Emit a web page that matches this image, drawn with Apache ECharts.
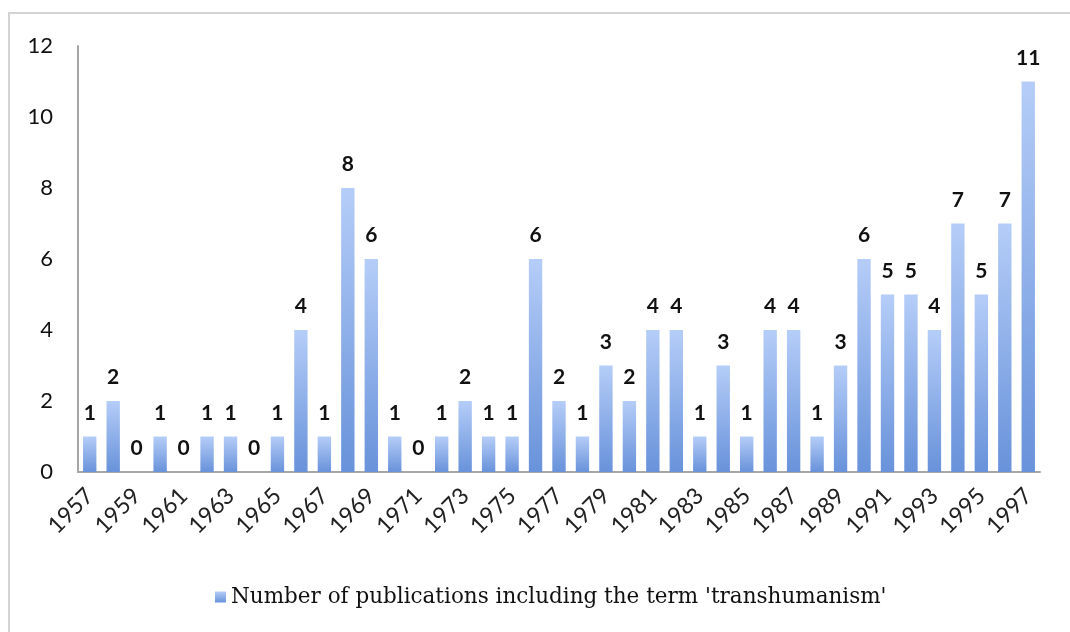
<!DOCTYPE html>
<html>
<head>
<meta charset="utf-8">
<script src="https://cdn.jsdelivr.net/npm/echarts@6/dist/echarts.min.js"></script>
<style>
  html, body { margin: 0; padding: 0; background: #fff; }
  #frame { position: absolute; left: 8px; top: 12px; width: 1070px; height: 640px;
           border-left: 2px solid #d4d4d4; border-top: 2px solid #d4d4d4; }
  #chart { position: absolute; left: 0; top: 0; width: 1070px; height: 632px; }
</style>
</head>
<body>
<div id="frame"></div>
<div id="chart"></div>
<script>
// years on the x axis
const years = [
  "1957","1958","1959","1960","1961","1962","1963","1964","1965","1966",
  "1967","1968","1969","1970","1971","1972","1973","1974","1975","1976",
  "1977","1978","1979","1980","1981","1982","1983","1984","1985","1986",
  "1987","1988","1989","1990","1991","1992","1993","1994","1995","1996","1997"
];
// publications per year
const publications = [
  1, 2, 0, 1, 0, 1, 1, 0, 1, 4,
  1, 8, 6, 1, 0, 1, 2, 1, 1, 6,
  2, 1, 3, 2, 4, 4, 1, 3, 1, 4,
  4, 1, 3, 6, 5, 5, 4, 7, 5, 7, 11
];
const seriesName = "Number of publications including the term 'transhumanism'";
const yTicks = [0, 2, 4, 6, 8, 10, 12];

const chart = echarts.init(document.getElementById("chart"), null, { renderer: "canvas" });

const barGradient = new echarts.graphic.LinearGradient(0, 0, 0, 1, [
  { offset: 0, color: "#b5cdf8" },
  { offset: 1, color: "#6892da" }
]);

chart.setOption({
  animation: false,
  grid: { left: 78, right: 30, top: 46, bottom: 160 },
  legend: {
    bottom: 19,
    left: 210,
    itemWidth: 11,
    itemHeight: 11,
    itemGap: 5,
    icon: "rect",
    textStyle: { fontFamily: "DejaVu Serif", fontSize: 21.5, color: "#111" }
  },
  xAxis: {
    type: "category",
    data: years,
    axisLine: { lineStyle: { color: "#a6a6a6", width: 2 } },
    axisTick: { show: false },
    axisLabel: {
      interval: 1,
      rotate: 45,
      margin: 20,
      fontFamily: "Lato",
      fontSize: 23,
      color: "#222"
    }
  },
  yAxis: {
    type: "value",
    min: yTicks[0],
    max: yTicks[yTicks.length - 1],
    interval: 2,
    axisLine: { show: true, lineStyle: { color: "#a6a6a6", width: 2 } },
    axisTick: { show: false },
    splitLine: { show: false },
    axisLabel: { margin: 25, fontFamily: "Lato", fontSize: 22, color: "#111" }
  },
  series: [{
    name: seriesName,
    type: "bar",
    data: publications,
    barCategoryGap: "43%",
    itemStyle: { color: barGradient },
    label: {
      show: true,
      position: "top",
      distance: 13,
      fontFamily: "Lato",
      fontWeight: "bold",
      fontSize: 21,
      color: "#111"
    }
  }]
});
</script>
</body>
</html>
